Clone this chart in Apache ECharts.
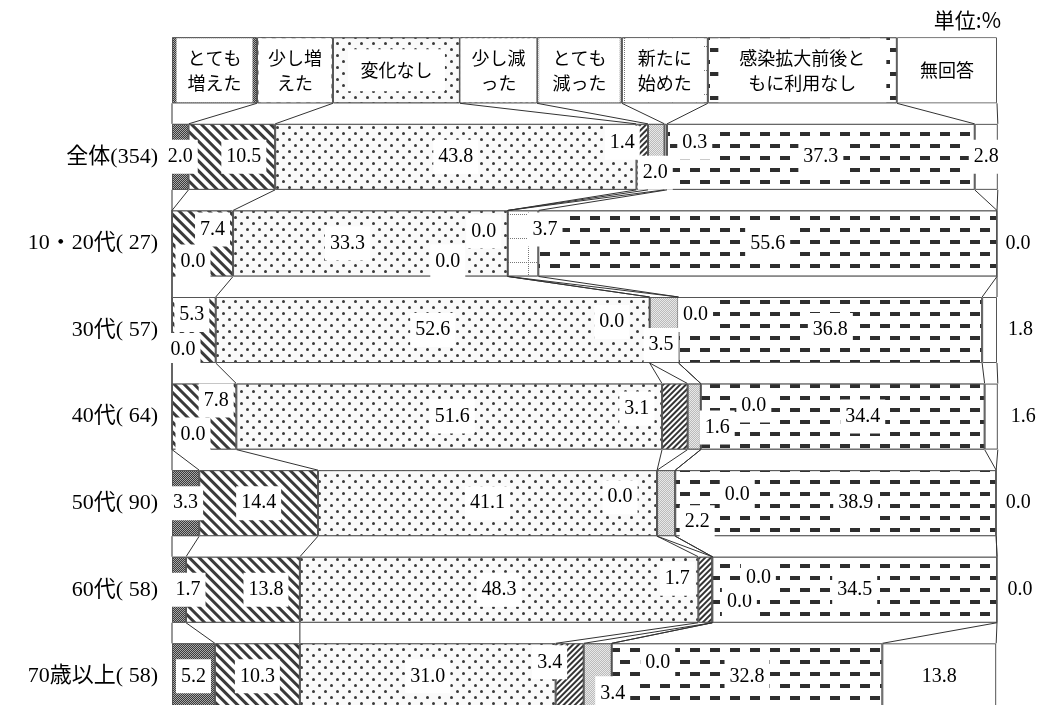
<!DOCTYPE html>
<html><head><meta charset="utf-8">
<script src="https://cdn.jsdelivr.net/npm/echarts@6.0.0/dist/echarts.min.js"></script>
<style>html,body{margin:0;padding:0;background:#fff}#c{width:1039px;height:705px}</style>
</head><body><div id="c"></div>
<script>
// ---------- data ----------
const rowLabels = ['全体(354)', '10・20代( 27)', '30代( 57)', '40代( 64)', '50代( 90)', '60代( 58)', '70歳以上( 58)'];
const seriesNames = ['とても増えた', '少し増えた', '変化なし', '少し減った', 'とても減った', '新たに始めた', '感染拡大前後ともに利用なし', '無回答'];
const legendText = ['とても\n増えた', '少し増\nえた', '変化なし', '少し減\nった', 'とても\n減った', '新たに\n始めた', '感染拡大前後と\nもに利用なし', '無回答'];
const unitText = '単位:%';
const valuesAll  = [2.0, 10.5, 43.8, 1.4, 2.0, 0.3, 37.3, 2.8];
const values1020 = [0.0, 7.4, 33.3, 0.0, 0.0, 3.7, 55.6, 0.0];
const values30   = [0.0, 5.3, 52.6, 0.0, 3.5, 0.0, 36.8, 1.8];
const values40   = [0.0, 7.8, 51.6, 3.1, 1.6, 0.0, 34.4, 1.6];
const values50   = [3.3, 14.4, 41.1, 0.0, 2.2, 0.0, 38.9, 0.0];
const values60   = [1.7, 13.8, 48.3, 1.7, 0.0, 0.0, 34.5, 0.0];
const values70   = [5.2, 10.3, 31.0, 3.4, 3.4, 0.0, 32.8, 13.8];
const rows = [valuesAll, values1020, values30, values40, values50, values60, values70];

// ---------- layout (not data) ----------
const headerSpan = [10.30, 9.21, 15.39, 9.33, 10.30, 10.42, 22.91, 12.14]; // legend header cell widths, % of plot
const headerBox = [[76,64],[73,64],[97,42],[76,64],[80,64],[78,64],[168,64],[98,64]];
const LH = 25;
const labelShift = [
  [[0,0],[12,0],[0,0],[-20,-14],[-1,16],[29,-14],[0,0],[0,0]],
  [[21,18],[10,-14],[-23,0],[-24,-12],[-60,18],[22,-14],[0,0],[21,0]],
  [[11,20],[-2,-15],[0,0],[-38,-8],[-3,15],[17,-15],[0,0],[31,0]],
  [[21,18],[12,-16],[3,0],[-38,-8],[23,11],[53,-11],[20,0],[32,0]],
  [[0,0],[0,0],[0,0],[-37,-6],[31,19],[62,-8],[20,0],[22,0]],
  [[9,0],[23,0],[0,0],[-28,-11],[27,12],[46,-12],[0,0],[23,0]],
  [[0,0],[0,0],[0,0],[-20,-14],[15,17],[46,-14],[0,0],[0,0]]
];
const BAR_W = 66;
const gridRows = [[1,1]]; for (let i = 0; i < 11; i++) gridRows.push([1,23]);
const decals = [
  {symbol:'rect', symbolSize:1, symbolKeepAspect:false, color:'#3a3a3a', backgroundColor:'#a8a8a8', dashArrayX:[[1,1],[0,1,1,0]], dashArrayY:[1,0]},
  {symbol:'rect', symbolSize:1, symbolKeepAspect:false, color:'#3a3a3a', backgroundColor:'#fff', dashArrayX:[1,0], dashArrayY:[2.5,3.2], rotation:Math.PI/4},
  {symbol:'circle', symbolSize:1, color:'#3a3a3a', backgroundColor:'#fafafa', dashArrayX:[[2.6,8.4],[0,5.5,2.6,2.9]], dashArrayY:[2.6,2.9]},
  {symbol:'rect', symbolSize:1, symbolKeepAspect:false, color:'#333', backgroundColor:'#fff', dashArrayX:[1,0], dashArrayY:[1.5,2], rotation:-Math.PI/4},
  {symbol:'rect', symbolSize:1, symbolKeepAspect:false, color:'#bbb', backgroundColor:'#e8e8e8', dashArrayX:[[1,1],[0,1,1,0]], dashArrayY:[1,0]},
  {symbol:'rect', symbolSize:1, symbolKeepAspect:false, color:'#777', backgroundColor:'#fff', dashArrayX:gridRows, dashArrayY:[1,1]},
  {symbol:'rect', symbolSize:1, symbolKeepAspect:false, color:'#2e2e2e', backgroundColor:'#fff', dashArrayX:[[10,10],[0,10,10,0]], dashArrayY:[3.4,7.6]},
  null
];

const table = [headerSpan].concat(rows);
const cums = table.map(r => { const c = [0]; r.forEach(v => c.push(c[c.length-1] + v)); return c; });

const numFont = '"Liberation Serif", "Noto Sans CJK JP", serif';
const jpFont = '"Noto Sans CJK JP", sans-serif';

const series = seriesNames.map((name, k) => ({
  name, type:'bar', stack:'total', barWidth:BAR_W, clip:false,
  itemStyle:{color:'#fff', borderColor:'#555', borderWidth:1, decal: decals[k] || undefined},
  label:{show:true, position:'inside', color:'#000', fontFamily:numFont, fontSize:20,
         backgroundColor:'#fff', padding:[7,5], formatter: p => Number(p.value).toFixed(1)},
  data: table.map((r, i) => {
    if (i === 0) {
      const lines = legendText[k].split('\n').length;
      const pv = (headerBox[k][1] - lines * LH) / 2;
      return {value: r[k], label:{formatter: legendText[k], fontFamily: jpFont, fontSize:18, lineHeight:LH,
        width: headerBox[k][0], padding:[pv,0,pv,0], backgroundColor:'#fff', offset:[0,0]}};
    }
    return {value: r[k], label:{offset: labelShift[i-1][k]}};
  })
}));

series.push({
  type:'custom', z:5, silent:true, clip:false,
  data: rowLabels.map((_, g) => [0, g]),
  encode:{x:0, y:1},
  renderItem(params, api) {
    const g = api.value(1);
    const a = cums[g], b = cums[g+1];
    const children = a.map((_, k) => {
      const p1 = api.coord([a[k], g]);
      const p2 = api.coord([b[k], g+1]);
      return {type:'line', shape:{x1:p1[0], y1:p1[1] + BAR_W/2, x2:p2[0], y2:p2[1] - BAR_W/2},
              style:{stroke:'#333', lineWidth:1}};
    });
    return {type:'group', children};
  }
});

const chart = echarts.init(document.getElementById('c'), null, {renderer:'canvas'});
chart.setOption({
  animation:false,
  backgroundColor:'#fff',
  title:{text:unitText, right:33, top:5, textStyle:{fontSize:21, fontWeight:'normal', color:'#000', fontFamily:jpFont}},
  grid:{left:172, width:825, top:27, height:692.6, containLabel:false, outerBoundsMode:'none'},
  xAxis:{type:'value', min:0, max:100, show:false},
  yAxis:{type:'category', inverse:true, data:[''].concat(rowLabels),
    axisLine:{show:false}, axisTick:{show:false}, splitLine:{show:false},
    axisLabel:{color:'#000', fontSize:22, margin:14, fontFamily:numFont}},
  series
});
</script></body></html>
